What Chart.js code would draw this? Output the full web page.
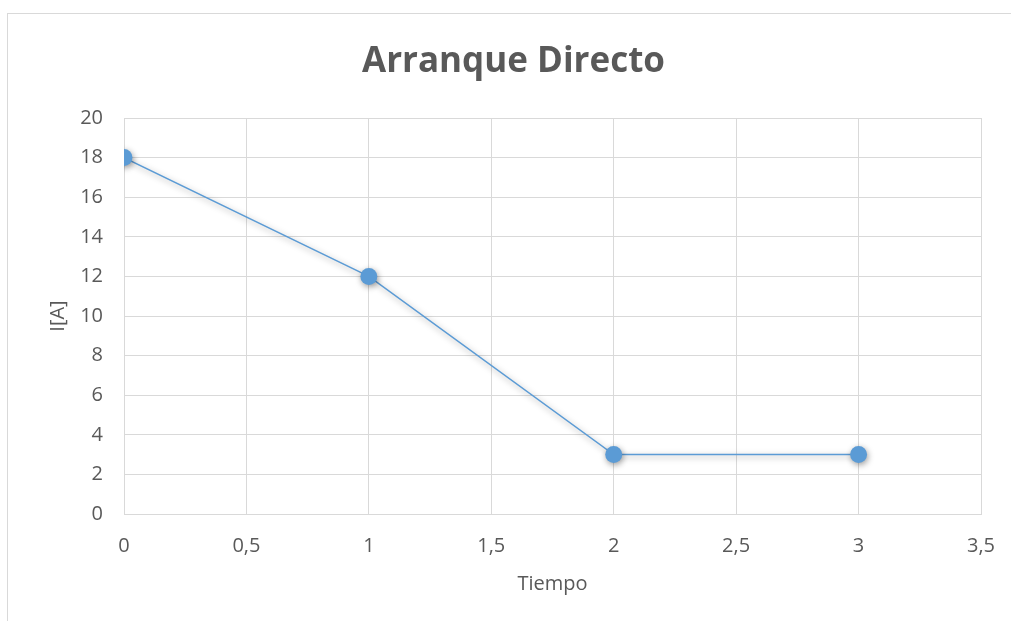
<!DOCTYPE html>
<html>
<head>
<meta charset="utf-8">
<script src="https://cdn.jsdelivr.net/npm/chart.js@4.4.1/dist/chart.umd.min.js"></script>
<style>
  html, body { margin: 0; padding: 0; background: #ffffff; overflow: hidden; }
  #wrap { position: relative; width: 1011px; height: 621px; }
  #frame { position: absolute; left: 7px; top: 13px; width: 1020px; height: 640px; border: 1px solid #d9d9d9; box-sizing: border-box; }
  canvas { position: absolute; left: 0; top: 0; }
</style>
</head>
<body>
<div id="wrap">
  <div id="frame"></div>
  <canvas id="c" width="1011" height="621"></canvas>
</div>
<script>
const chartTitle = "Arranque Directo";
const xAxisLabel = "Tiempo";
const yAxisLabel = "I[A]";
const tiempo = [0, 1, 2, 3];
const corriente = [18, 12, 3, 3];
const xMin = 0, xMax = 3.5, xStep = 0.5;
const yMin = 0, yMax = 20, yStep = 2;

const seriesColor = "#5B9BD5";
const textColor = "#595959";
const gridColor = "#d9d9d9";

const points = tiempo.map((t, i) => ({ x: t, y: corriente[i] }));

const shadowPlugin = {
  id: 'shadow',
  beforeDatasetsDraw(chart) {
    const ctx = chart.ctx;
    ctx.save();
    ctx.shadowColor = 'rgba(0,0,0,0.4)';
    ctx.shadowBlur = 6;
    ctx.shadowOffsetX = 1;
    ctx.shadowOffsetY = 2;
  },
  afterDatasetsDraw(chart) {
    chart.ctx.restore();
  }
};

const fmt = v => String(v).replace('.', ',');

new Chart(document.getElementById('c'), {
  type: 'scatter',
  data: {
    datasets: [{
      label: 'I',
      data: points,
      showLine: true,
      borderColor: seriesColor,
      backgroundColor: seriesColor,
      borderWidth: 1.5,
      pointRadius: 8.5,
      pointHoverRadius: 8.5,
      pointBackgroundColor: seriesColor,
      pointBorderColor: seriesColor,
      pointBorderWidth: 0,
      tension: 0
    }]
  },
  options: {
    responsive: false,
    animation: false,
    devicePixelRatio: 1,
    layout: { padding: { left: 46, right: 30, top: 0, bottom: 25 } },
    plugins: {
      legend: { display: false },
      tooltip: { enabled: false },
      title: {
        display: true,
        text: chartTitle,
        color: textColor,
        font: { family: "'Open Sans'", size: 35, weight: 'bold', lineHeight: 1.0 },
        padding: { top: 45, bottom: 38 }
      }
    },
    scales: {
      x: {
        type: 'linear',
        min: xMin, max: xMax,
        ticks: {
          stepSize: xStep,
          color: textColor,
          font: { family: "'Open Sans'", size: 20 },
          padding: 20,
          callback: v => fmt(v)
        },
        grid: { color: gridColor, lineWidth: 1, drawTicks: false },
        border: { color: gridColor, width: 1 },
        title: {
          display: true,
          text: xAxisLabel,
          color: textColor,
          font: { family: "'Open Sans'", size: 20 },
          padding: { top: 0, bottom: 0 }
        },
        afterFit(scale) {
          scale.height = 82;
          scale.paddingLeft = 0;
          scale.paddingRight = 0;
        }
      },
      y: {
        type: 'linear',
        min: yMin, max: yMax,
        ticks: {
          stepSize: yStep,
          color: textColor,
          font: { family: "'Open Sans'", size: 20 },
          padding: 21,
          callback: v => fmt(v)
        },
        grid: { color: gridColor, lineWidth: 1, drawTicks: false },
        border: { color: gridColor, width: 1 },
        title: {
          display: true,
          text: yAxisLabel,
          color: textColor,
          font: { family: "'Open Sans'", size: 20 },
          padding: { top: 0, bottom: 0 }
        },
        afterFit(scale) { scale.width = 78; }
      }
    }
  },
  plugins: [shadowPlugin]
});
</script>
</body>
</html>
